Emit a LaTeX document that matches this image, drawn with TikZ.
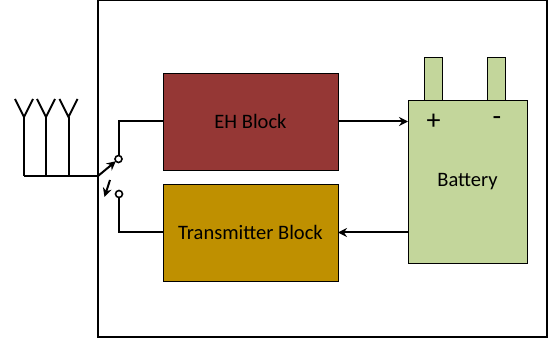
\documentclass[tikz,border=0pt]{standalone}
\usepackage{fontspec}
\usepackage{xcolor}
\setmainfont{Carlito}
\usetikzlibrary{arrows.meta, positioning, calc}
\definecolor{colEH}{RGB}{149,55,53}
\definecolor{colTx}{RGB}{191,144,0}
\definecolor{colBatt}{RGB}{195,214,155}

\begin{document}
\begin{tikzpicture}[
  x=1pt, y=1pt,
  node distance=14pt and 70pt,
  block/.style={rectangle, draw, line width=0.8pt, minimum width=175pt,
                minimum height=97pt, outer sep=0pt, font=\fontsize{20.5}{24}\selectfont, align=center},
  batt/.style={rectangle, draw, line width=0.8pt, fill=colBatt, minimum width=119pt,
               minimum height=163pt, outer sep=0pt, font=\fontsize{20.5}{24}\selectfont, align=center},
  lug/.style={rectangle, draw, line width=0.8pt, fill=colBatt, minimum width=17.5pt,
              minimum height=43pt, outer sep=0pt},
  contact/.style={circle, draw, line width=1.6pt, fill=white, minimum size=7pt,
                  inner sep=0pt, outer sep=0pt},
  sign/.style={font=\fontsize{28}{30}\selectfont, inner sep=0pt},
  wire/.style={line width=2pt},
  arr/.style={-{Stealth[length=9pt, width=9pt]}, line width=2pt},
]
\useasboundingbox (0,0) rectangle (552,343);

% Enclosure
\node[rectangle, draw, line width=1.6pt, minimum width=449pt, minimum height=337pt,
      outer sep=0pt, anchor=north west] (frame) at (98,343) {};

% Blocks
\node[block, fill=colEH] (eh) at (250.5,221.5) {EH Block};
\node[block, fill=colTx, below=of eh] (tx) {Transmitter Block};

% Battery
\node[batt, right=70pt of eh.north east, anchor=north west, yshift=-27pt] (battery) {Battery};
\node[lug, anchor=south] (lugp) at ($(battery.north west)+(25.5,0)$) {};
\node[lug, anchor=south] (lugm) at ($(battery.north west)+(88.5,0)$) {};
\node[sign] (plus) at ($(battery.north west)+(25.5,-21.5)$) {+};
\node[sign] (minus) at ($(battery.north west)+(89,-21.5)$) {-};

% Switch contacts
\node[contact] (up) at (118.5,184) {};
\node[contact] (down) at (119,149) {};
\coordinate (pivot) at (98,167);
\coordinate (base) at (24,167);

% Antennas
\foreach \name/\xa in {a/24, b/46, c/68.5} {
  \coordinate (\name foot) at (\xa,167);
  \coordinate (\name fork) at (\xa,226);
  \coordinate (\name l) at (\xa-9,244);
  \coordinate (\name r) at (\xa+9,244);
  \draw[wire] (\name foot) -- (\name fork);
  \draw[wire] (\name l) -- (\name fork) -- (\name r);
}
\draw[wire] (base) -- (pivot);

% Arrows: switch
\draw[arr] (pivot) -- (up);
\coordinate (swa) at (110,163);
\coordinate (swb) at (104.5,146);
\draw[arr] (swa) -- (swb);

% Arrows: signal path
\draw[wire] (up) -- (up |- eh.west) -- (eh.west);
\draw[wire] (down) -- (down |- tx.west) -- (tx.west);
\draw[arr] (eh.east) -- (eh.east -| battery.west);
\draw[arr] (tx.east -| battery.west) -- (tx.east);

\end{tikzpicture}
\end{document}
